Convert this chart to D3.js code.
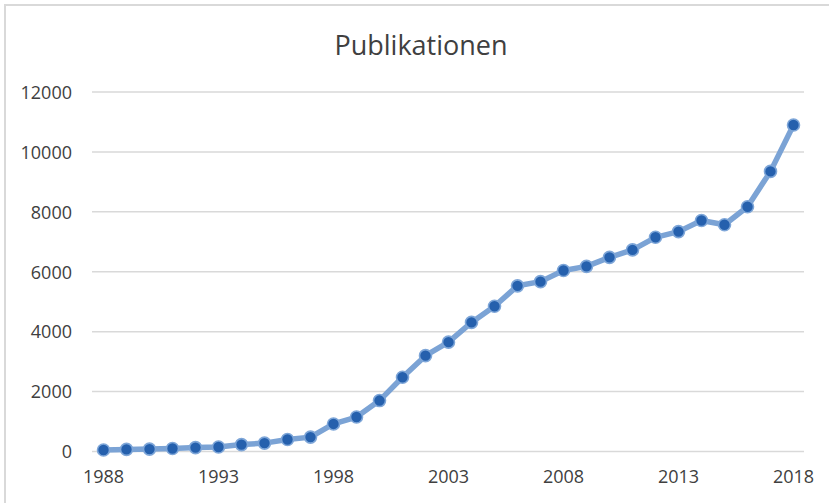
<!DOCTYPE html>
<html>
<head>
<meta charset="utf-8">
<script src="https://cdn.jsdelivr.net/npm/d3@7"></script>
<style>
  html, body { margin: 0; padding: 0; background: #ffffff; }
  svg { display: block; }
</style>
</head>
<body>
<svg id="chart" width="829" height="503"></svg>
<script>
const years = [1988,1989,1990,1991,1992,1993,1994,1995,1996,1997,1998,1999,2000,2001,2002,2003,2004,2005,2006,2007,2008,2009,2010,2011,2012,2013,2014,2015,2016,2017,2018];
const publications = [50,70,80,100,130,150,230,280,400,480,920,1150,1700,2480,3200,3650,4310,4850,5530,5670,6040,6180,6480,6730,7150,7340,7710,7570,8170,9350,10900];
const yTicks = [0,2000,4000,6000,8000,10000,12000];
const xTickLabels = [1988,1993,1998,2003,2008,2013,2018];
const title = "Publikationen";

const svg = d3.select("#chart");
const W = 829, H = 503;
const plot = {left: 92, right: 805, top: 92, bottom: 451.5};

// chart border
svg.append("rect")
  .attr("x", 5).attr("y", 5)
  .attr("width", W + 10).attr("height", H + 10)
  .attr("fill", "#ffffff")
  .attr("stroke", "#d9d9d9").attr("stroke-width", 2);

const x = d3.scaleBand().domain(years).range([plot.left, plot.right]);
const y = d3.scaleLinear().domain([0, 12000]).range([plot.bottom, plot.top]);
const cx = d => x(d) + x.bandwidth() / 2;

// gridlines
svg.append("g").selectAll("line").data(yTicks).join("line")
  .attr("x1", plot.left).attr("x2", plot.right - 1)
  .attr("y1", d => y(d)).attr("y2", d => y(d))
  .attr("stroke", "#d9d9d9").attr("stroke-width", 1.5);

// y axis labels
const yAxis = d3.axisLeft(y).tickValues(yTicks).tickSize(0).tickPadding(0).tickFormat(d3.format("d"));
const gy = svg.append("g").attr("transform", `translate(${plot.left - 20},0)`).call(yAxis);
gy.select(".domain").remove();
gy.selectAll("text")
  .attr("fill", "#404040")
  .style("font-family", "'Open Sans', 'Noto Sans', sans-serif")
  .style("font-size", "18px")
  .attr("dy", "0.35em");

// x axis labels
const xAxis = d3.axisBottom(x).tickValues(xTickLabels).tickSize(0).tickPadding(0);
const gx = svg.append("g").attr("transform", `translate(0,${plot.bottom + 19})`).call(xAxis);
gx.select(".domain").remove();
gx.selectAll("text")
  .attr("fill", "#404040")
  .style("font-family", "'Open Sans', 'Noto Sans', sans-serif")
  .style("font-size", "18px")
  .attr("dy", "0.71em");

// line
const line = d3.line().x((d, i) => cx(years[i])).y(d => y(d));
svg.append("path")
  .datum(publications)
  .attr("d", line)
  .attr("fill", "none")
  .attr("stroke", "#7ba3d5")
  .attr("stroke-width", 5.5)
  .attr("stroke-linejoin", "round")
  .attr("stroke-linecap", "round");

// markers
svg.append("g").selectAll("circle").data(publications).join("circle")
  .attr("cx", (d, i) => cx(years[i]))
  .attr("cy", d => y(d))
  .attr("r", 6)
  .attr("fill", "#2560ad")
  .attr("stroke", "#7ea6d8")
  .attr("stroke-width", 1.6);

// title
svg.append("text")
  .attr("x", 421).attr("y", 55)
  .attr("text-anchor", "middle")
  .attr("fill", "#404040")
  .style("font-family", "'Open Sans', 'Noto Sans', sans-serif")
  .style("font-size", "27px")
  .text(title);
</script>
</body>
</html>
